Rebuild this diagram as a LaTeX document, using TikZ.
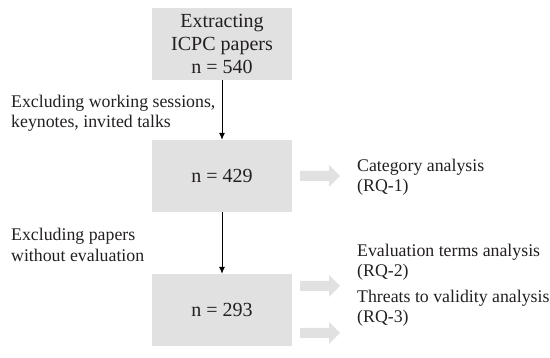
\documentclass[tikz,border=0pt]{standalone}
\usepackage{fontspec}
\setmainfont{Liberation Serif}
\usetikzlibrary{arrows.meta}
\definecolor{boxgray}{HTML}{E1E1E2}
\definecolor{txt}{HTML}{231F20}
\tikzset{
  stage/.style={fill=boxgray, minimum width=140pt, minimum height=72pt, inner sep=0pt,
    align=center, text=txt, font=\fontsize{20}{23}\selectfont},
  note/.style={anchor=west, align=left, inner sep=0pt, text=txt,
    font=\fontsize{17.8}{20.5}\selectfont},
  flow/.style={-{Latex[length=7pt,width=6pt]}, line width=0.9pt, black},
  blockarrow/.pic={\fill[boxgray] (0,-5) -- (29,-5) -- (29,-11) -- (40,0) -- (29,11) -- (29,5) -- (0,5) -- cycle;}
}
\begin{document}
\begin{tikzpicture}[x=1pt,y=-1pt]
\useasboundingbox (0,0) rectangle (550,358);
\node[stage] (s1) at (222,44) {Extracting\\ICPC papers\\n = 540};
\node[stage] (s2) at (222,176) {n = 429};
\node[stage] (s3) at (222,310) {n = 293};
\draw[flow] (s1) -- (s2);
\draw[flow] (s2) -- (s3);
\node[note] (l1) at (11,113) {Excluding working sessions,\\keynotes, invited talks};
\node[note] (l2) at (11,245) {Excluding papers\\without evaluation};
\pic at (300,176) {blockarrow};
\pic at (300,286) {blockarrow};
\pic at (300,333) {blockarrow};
\node[note] (r1) at (357,177) {Category analysis\\(RQ-1)};
\node[note] (r2) at (357,262) {Evaluation terms analysis\\(RQ-2)};
\node[note] (r3) at (357,308) {Threats to validity analysis\\(RQ-3)};
\end{tikzpicture}
\end{document}
